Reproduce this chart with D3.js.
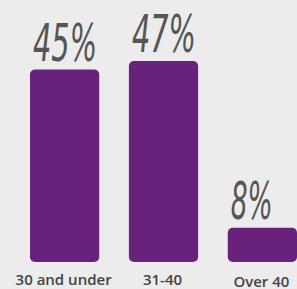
<!DOCTYPE html>
<html>
<head>
<meta charset="utf-8">
<script src="https://cdn.jsdelivr.net/npm/d3@7"></script>
<style>
  html, body { margin: 0; padding: 0; background: #ececec; }
  svg { display: block; }
</style>
</head>
<body>
<div class="chart"></div>
<script>
// Chart data
var categories = ["30 and under", "31-40", "Over 40"];
var values = [45, 47, 8];
var valueLabels = ["45%", "47%", "8%"];

var width = 297, height = 289;
var baseline = 262;

var svg = d3.select(".chart").append("svg")
  .attr("width", width)
  .attr("height", height);

svg.append("rect")
  .attr("width", width)
  .attr("height", height)
  .attr("fill", "#ececec");

var xScale = d3.scaleBand()
  .domain(categories)
  .range([30, 297])
  .paddingInner(0.3)
  .paddingOuter(0);

var yScale = d3.scaleLinear()
  .domain([0, 47])
  .range([baseline, 61]);

// Bars
svg.selectAll(".bar")
  .data(values)
  .enter()
  .append("rect")
  .attr("class", "bar")
  .attr("x", (d, i) => xScale(categories[i]))
  .attr("y", d => yScale(d))
  .attr("width", xScale.bandwidth())
  .attr("height", d => baseline - yScale(d))
  .attr("rx", 5)
  .attr("fill", "#68227c");

// Value labels (handwritten look)
svg.selectAll(".value")
  .data(values)
  .enter()
  .append("text")
  .attr("class", "value")
  .attr("x", (d, i) => xScale(categories[i]) + 3)
  .attr("y", d => yScale(d) - 9)
  .attr("textLength", (d, i) => valueLabels[i].length === 3 ? 64 : 42)
  .attr("lengthAdjust", "spacingAndGlyphs")
  .style("font-family", "'Liberation Sans Narrow', 'DejaVu Sans Condensed', sans-serif")
  .style("font-style", "italic")
  .style("font-size", "52px")
  .style("fill", "#555555")
  .text((d, i) => valueLabels[i]);

// Category labels
svg.selectAll(".cat")
  .data(categories)
  .enter()
  .append("text")
  .attr("class", "cat")
  .attr("x", d => xScale(d) + xScale.bandwidth() / 2 - 1)
  .attr("y", (d, i) => i === 2 ? 287 : 285)
  .attr("text-anchor", "middle")
  .style("font-family", "'Open Sans', sans-serif")
  .style("font-weight", "600")
  .style("font-size", "15px")
  .style("fill", "#444444")
  .text(d => d);
</script>
</body>
</html>
